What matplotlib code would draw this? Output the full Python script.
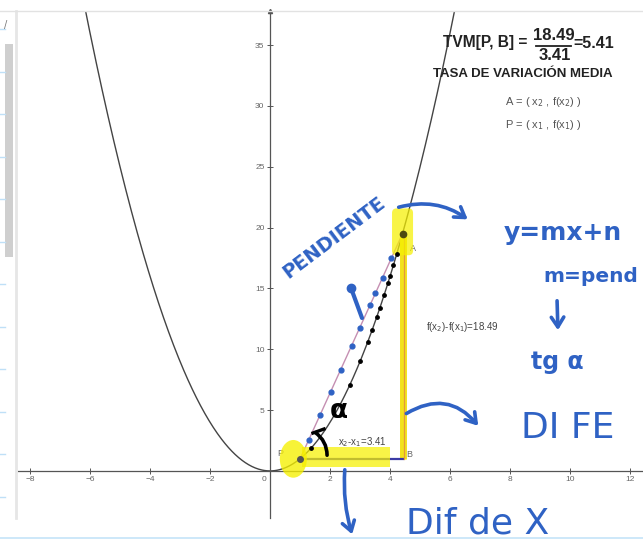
import numpy as np
import matplotlib.pyplot as plt
from matplotlib.patches import Ellipse, Rectangle, FancyBboxPatch

W, H = 643, 555

# puntos de la secante (f(x) = x^2)
x1, x2 = 1.006, 4.416
tvm_num = "18.49"
tvm_den = "3.41"
tvm_val = "5.41"
x_ticks = [-8, -6, -4, -2, 2, 4, 6, 8, 10, 12]
y_ticks = [5, 10, 15, 20, 25, 30, 35]
# puntos azules dibujados a mano sobre la secante (x)
blue_dots_x = [1.29, 1.67, 2.02, 2.35, 2.72, 2.99, 3.33, 3.51, 3.75, 4.04]
# puntos negros a mano sobre la parabola (x)
black_dots_x = [1.38, 2.66, 3.01, 3.25, 3.40, 3.56, 3.66, 3.80, 3.93, 4.00, 4.11, 4.22]


def f(x):
    return x ** 2


blue = '#2f62c4'
gg = 'Liberation Sans'

fig = plt.figure(figsize=(W / 100, H / 100), dpi=100)
fig.patch.set_facecolor('white')

# ---- grafico principal ----
ax = fig.add_axes([18 / W, 37 / H, 625 / W, 507 / H])
ax.set_xlim(-8.4, 12.43)
ax.set_ylim(-3.87, 37.8)
ax.set_facecolor('white')
for s in ['top', 'right']:
    ax.spines[s].set_visible(False)
ax.spines['left'].set_position(('data', 0))
ax.spines['bottom'].set_position(('data', 0))
for s in ['left', 'bottom']:
    ax.spines[s].set_color('#555555')
    ax.spines[s].set_linewidth(0.9)
ax.set_xticks(x_ticks)
ax.set_yticks(y_ticks)
ax.set_xticklabels([str(t).replace('-', '\u2212') for t in x_ticks], family=gg)
ax.set_yticklabels([str(t) for t in y_ticks], family=gg)
ax.tick_params(direction='inout', length=4, width=0.7, color='#555555',
               labelsize=6, labelcolor='#666666', pad=2)
ax.text(-0.2, -0.45, '0', ha='center', va='top', fontsize=6, color='#666666', family=gg)
ax.plot(0, 1, marker='^', ms=3, color='#555555', transform=ax.get_xaxis_transform(), clip_on=False)

xs = np.linspace(-7, 7, 500)
ax.plot(xs, f(xs), color='#444444', lw=1.0, zorder=2)

P = (x1, f(x1))
A = (x2, f(x2))
B = (x2, f(x1))

# secante, catetos
ax.plot([P[0], A[0]], [P[1], A[1]], color='#c58fb2', lw=1.0, zorder=3)
ax.plot([B[0], A[0]], [B[1], A[1]], color='#f2e21a', lw=5, zorder=3, solid_capstyle='butt')
ax.plot([B[0] + 0.05, A[0] + 0.05], [B[1], A[1]], color='#e39a3a', lw=0.9, zorder=4)
ax.plot([P[0], B[0]], [P[1], B[1]], color='#3b3ba6', lw=1.6, zorder=3)

# trazos a mano
ax.scatter(blue_dots_x, [f(x1) + (x - x1) * (f(x2) - f(x1)) / (x2 - x1) for x in blue_dots_x],
           s=12, color=blue, zorder=6)
ax.scatter(black_dots_x, [f(x) for x in black_dots_x], s=6, color='black', zorder=6)

# subrayados amarillos
ax.add_patch(Rectangle((x1 + 0.06, f(x1) - 0.68), 2.93, 1.65, color='#f6f000', alpha=0.72, lw=0, zorder=5))
ax.add_patch(Ellipse((x1 - 0.23, f(x1) - 0.02), 0.9, 3.1, color='#f6f000', alpha=0.78, lw=0, zorder=5))
ax.add_patch(FancyBboxPatch((x2 - 0.2, f(x2) - 1.4), 0.4, 3.1, boxstyle='round,pad=0.15',
                            mutation_aspect=2.5, color='#f6f000', alpha=0.72, lw=0, zorder=5))

ax.plot(*P, 'o', ms=4, color='#555555', zorder=7)
ax.plot(*A, 'o', ms=4.5, color='#4d4a10', zorder=7)

ax.text(P[0] - 0.55, P[1] + 0.4, 'P', fontsize=6.5, color='#666666', ha='right', va='center', family=gg)
ax.text(B[0] + 0.12, B[1] + 0.3, 'B', fontsize=6.5, color='#666666', ha='left', va='center', family=gg)
ax.text(A[0] + 0.25, A[1] - 1.2, 'A', fontsize=6.5, color='#666666', ha='left', va='center', family=gg)

ax.text(5.2, 11.8, r'f(x$_2$)-f(x$_1$)=' + tvm_num, fontsize=7, color='#444444', va='center', family=gg)
ax.text(2.25, 2.4, r'x$_2$-x$_1$=' + tvm_den, fontsize=7, color='#444444', va='center', family=gg)

# ---- capa de anotaciones (pixeles) ----
ov = fig.add_axes([0, 0, 1, 1], zorder=10)
ov.set_xlim(0, W)
ov.set_ylim(H, 0)
ov.axis('off')
ov.patch.set_alpha(0)

# panel lateral de GeoGebra
ov.plot([16, 16], [11, 518], color='#e6e6e6', lw=2)
ov.plot([0, W], [11, 11], color='#e2e2e2', lw=1)
ov.add_patch(Rectangle((5, 44), 8, 213, color='#cfcfcf', lw=0))
for yy in [29, 72, 114, 157, 199, 242, 284, 327, 369, 412, 454, 497]:
    ov.plot([0, 5], [yy, yy], color='#bfe0f7', lw=1)
ov.plot([0, W], [538, 538], color='#c5e4f8', lw=1.2)
ov.text(6, 25, '/', fontsize=7, color='#777777', ha='center', va='center')

# formula TVM
ov.text(443, 42, 'TVM[P, B] =', fontsize=11.2, weight='bold', color='#222222', va='center', family=gg)
ov.text(554, 35, tvm_num, fontsize=12, weight='bold', color='#222222', ha='center', va='center', family=gg)
ov.plot([536, 571], [46, 46], color='#222222', lw=1.3)
ov.text(573, 43, '=' + tvm_val, fontsize=11.5, weight='bold', color='#222222', va='center', family=gg)
ov.text(555, 56, tvm_den, fontsize=12, weight='bold', color='#222222', ha='center', va='center', family=gg)
ov.text(523, 74, 'TASA DE VARIACIÓN MEDIA', fontsize=9.5, weight='bold', color='#222222',
        ha='center', va='center', family=gg)
ov.text(543, 102, r'A = ( x$_2$ , f(x$_2$) )', fontsize=8, color='#555555', ha='center', va='center', family=gg)
ov.text(543, 125, r'P = ( x$_1$ , f(x$_1$) )', fontsize=8, color='#555555', ha='center', va='center', family=gg)

# escritura a mano
hw = dict(color=blue, family='DejaVu Sans', ha='center', va='center')
ov.text(334, 238, 'PENDIENTE', fontsize=14, weight='bold', rotation=37, **hw)
ov.text(563, 233, 'y=mx+n', fontsize=18, weight='bold', **hw)
ov.text(591, 277, 'm=pend', fontsize=14.5, weight='bold', **hw)
ov.text(557, 362, 'tg α', fontsize=17, weight='bold', **hw)
ov.text(568, 428, 'DI FE', fontsize=26, **hw)
ov.text(478, 523, 'Dif de X', fontsize=26, **hw)

arr = dict(arrowstyle='->,head_length=0.7,head_width=0.45', color=blue, lw=2.6)
ov.annotate('', xy=(470, 221), xytext=(396, 208), arrowprops=dict(connectionstyle='arc3,rad=-0.25', **arr))
ov.annotate('', xy=(480, 428), xytext=(404, 415), arrowprops=dict(connectionstyle='arc3,rad=-0.45', **arr))
ov.annotate('', xy=(353, 537), xytext=(345, 467), arrowprops=dict(connectionstyle='arc3,rad=0.1', **arr))
ov.annotate('', xy=(558, 333), xytext=(557, 298), arrowprops=dict(connectionstyle='arc3,rad=0', **arr))
ov.plot([351, 362], [288, 318], color=blue, lw=3, solid_capstyle='round')
ov.plot(351, 288, 'o', ms=6, color=blue)

# angulo alfa
ov.annotate('', xy=(327, 458), xytext=(313, 431),
            arrowprops=dict(arrowstyle='-', color='black', lw=2.6, connectionstyle='arc3,rad=-0.3'))
ov.plot([313, 324], [433, 429], color='black', lw=2.4)
ov.text(339, 411, 'α', fontsize=19, weight='bold', color='black', ha='center', va='center')

fig.savefig('out.png', dpi=100)
